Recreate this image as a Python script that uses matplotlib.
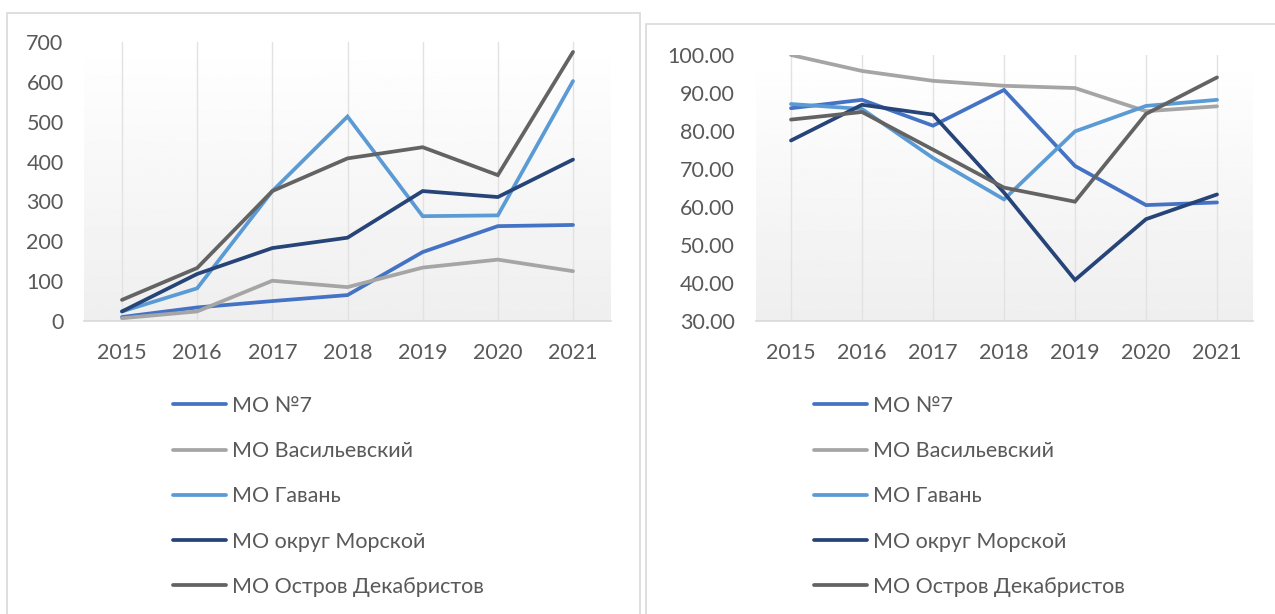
import numpy as np
import matplotlib
matplotlib.use("Agg")
import matplotlib.pyplot as plt
from matplotlib.patches import Rectangle

plt.rcParams['font.family'] = ['Lato', 'Open Sans', 'DejaVu Sans']

years = ['2015', '2016', '2017', '2018', '2019', '2020', '2021']
names = ['МО №7', 'МО Васильевский', 'МО Гавань', 'МО округ Морской', 'МО Остров Декабристов']
colors = ['#4472C4', '#A5A5A5', '#5B9BD5', '#264478', '#636363']

# left chart
mo7_a = [10, 34, 50, 65, 173, 238, 241]
vas_a = [7, 24, 101, 85, 134, 154, 125]
gav_a = [24, 82, 326, 513, 263, 265, 602]
mor_a = [24, 118, 183, 209, 326, 311, 405]
dek_a = [53, 133, 326, 408, 436, 366, 675]

# right chart
mo7_b = [86.0, 88.2, 81.4, 90.8, 70.8, 60.5, 61.2]
vas_b = [100.0, 95.8, 93.2, 91.9, 91.3, 85.2, 86.5]
gav_b = [87.1, 85.8, 72.9, 62.0, 79.9, 86.6, 88.2]
mor_b = [77.5, 86.9, 84.3, 63.8, 40.8, 56.8, 63.3]
dek_b = [83.0, 85.0, 75.1, 65.1, 61.4, 84.5, 94.1]

W, H = 1275, 614
fig = plt.figure(figsize=(W / 100, H / 100), dpi=100)

# panel frames
fig.patches.append(Rectangle((7 / W, -0.1), 633 / W, 1.1 - 13 / H, transform=fig.transFigure,
                             fill=False, ec='#D9D9D9', lw=1.2))
fig.patches.append(Rectangle((646 / W, -0.1), 700 / W, 1.1 - 24 / H, transform=fig.transFigure,
                             fill=False, ec='#D9D9D9', lw=1.2))

txt = '#595959'


def make_ax(rect, series, ylim, step, fmt, leg_x):
    ax = fig.add_axes(rect)
    x = np.arange(len(years))
    grad = np.linspace(1.0, 0.935, 256).reshape(-1, 1)
    ax.imshow(grad, cmap='gray', vmin=0, vmax=1, aspect='auto',
              extent=(-0.5, 6.5, ylim[0], ylim[1]), zorder=0)
    for xi in x:
        ax.axvline(xi, color='#E2E2E2', lw=1, zorder=1)
    for s, c, n in zip(series, colors, names):
        ax.plot(x, s, color=c, lw=2.7, label=n, zorder=3, solid_capstyle='round',
                solid_joinstyle='miter')
    ax.set_xlim(-0.5, 6.5)
    ax.set_ylim(*ylim)
    ax.set_xticks(x)
    ax.set_xticklabels(years)
    ticks = np.arange(ylim[0], ylim[1] + step / 2, step)
    ax.set_yticks(ticks)
    ax.set_yticklabels([fmt.format(t) for t in ticks])
    for sp in ['top', 'right', 'left']:
        ax.spines[sp].set_visible(False)
    ax.spines['bottom'].set_color('#D9D9D9')
    ax.spines['bottom'].set_linewidth(1.2)
    ax.spines['bottom'].set_zorder(2)
    ax.tick_params(length=0, labelsize=15.5, labelcolor=txt)
    ax.tick_params(axis='y', pad=15)
    ax.tick_params(axis='x', pad=16)
    ax.legend(loc='upper left', bbox_to_anchor=(leg_x / W, 1 - 396 / H),
              bbox_transform=fig.transFigure, frameon=False, fontsize=15.5,
              labelcolor=txt, handlelength=2.45, handletextpad=0.3,
              labelspacing=1.17, borderpad=0, borderaxespad=0)
    return ax


make_ax([84.4 / W, 1 - 321 / H, 526.2 / W, 279 / H],
        [mo7_a, vas_a, gav_a, mor_a, dek_a], (0, 700), 100, '{:.0f}', 173)
make_ax([755.5 / W, 1 - 321 / H, 497 / W, 266 / H],
        [mo7_b, vas_b, gav_b, mor_b, dek_b], (30, 100), 10, '{:.2f}', 814)

fig.savefig('out.png', dpi=100)
